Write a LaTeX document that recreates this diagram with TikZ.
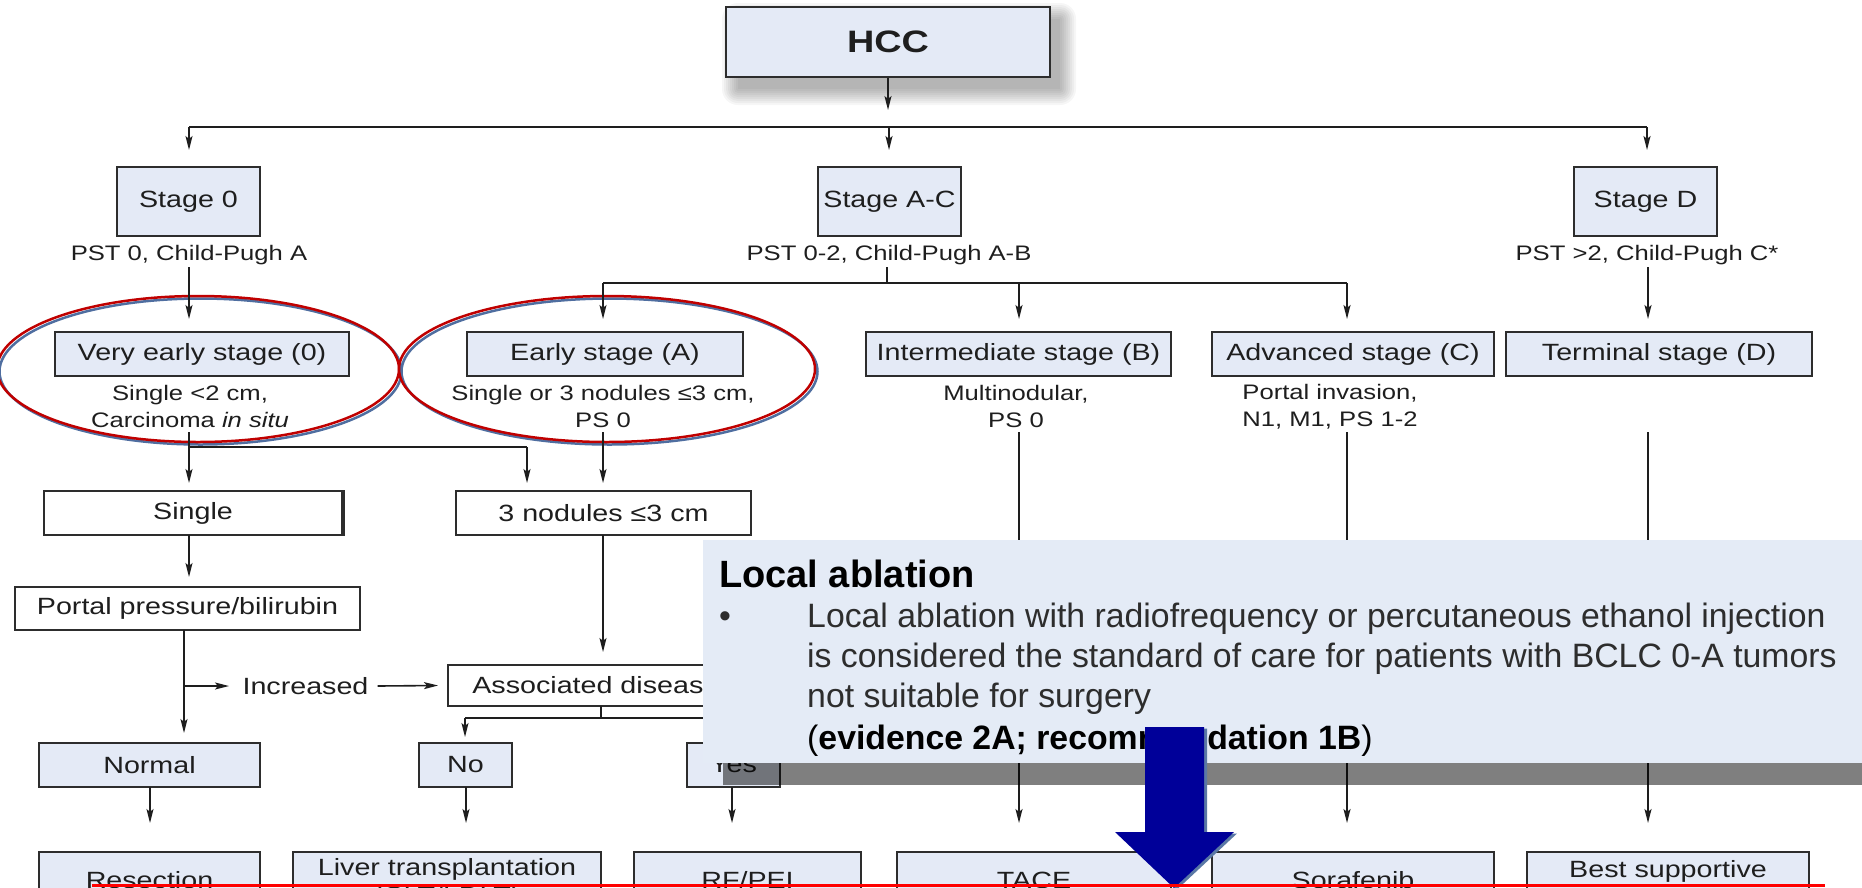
\documentclass[tikz,border=0pt]{standalone}
\usepackage{fontspec}
\usetikzlibrary{arrows.meta,calc}
\newfontfamily\chartfont[FakeStretch=1.22]{Liberation Sans}
\newfontfamily\ovfont{Liberation Sans}
\newcommand\labf{\chartfont\fontsize{23.5}{28}\selectfont}
\newcommand\subf{\chartfont\fontsize{21}{27}\selectfont}
\newcommand\hccf{\chartfont\bfseries\fontsize{31}{36}\selectfont}
\newcommand\ovf{\ovfont\fontsize{33.8}{41}\selectfont}
\newcommand\ovtf{\ovfont\bfseries\fontsize{38}{41}\selectfont}
\definecolor{boxfill}{RGB}{228,234,246}
\definecolor{ovfill}{RGB}{228,235,246}
\definecolor{lc}{RGB}{30,30,30}
\definecolor{bc}{RGB}{45,45,45}
\definecolor{ovtext}{RGB}{45,45,45}
\definecolor{ellred}{RGB}{192,0,0}
\definecolor{ellsh}{RGB}{79,110,160}
\definecolor{navy}{RGB}{0,0,153}
\definecolor{navysh}{RGB}{90,120,165}
\begin{document}
\begin{tikzpicture}[x=1pt,y=-1pt,
  ln/.style={draw=lc,line width=1.6pt},
  arr/.style={ln,-{Stealth[length=14pt,width=7pt,inset=3pt]}},
  bx/.style={draw=bc,line width=2pt,fill=boxfill,inner sep=0pt,font=\labf,align=center,text=lc},
  wbx/.style={bx,fill=white},
  trbx/.style={bx,minimum height=62pt,text height=36pt,text depth=26pt},
  sublab/.style={inner sep=0pt,font=\subf,align=center,text=lc},
  ovline/.style={anchor=base west,inner sep=0pt,font=\ovf,text=ovtext},
]
\path[use as bounding box] (0,0) rectangle (1862,887);
\begin{scope}
\clip (0,0) rectangle (1862,887);
\fill[white] (0,0) rectangle (1862,887);

% ---------- HCC with soft shadow
\foreach \e in {0,2,...,16} {
  \fill[black,opacity=0.035,rounded corners=\e pt] ({738-\e},{19-\e}) rectangle ({1060+\e},{89+\e});
}
\node[bx,minimum width=324pt,minimum height=70pt,font=\hccf] (hcc) at (888,42) {HCC};
\coordinate (hccT) at (888,110);
\draw[arr] (hcc.south) -- (hccT);

% ---------- stages
\node[bx,minimum width=143pt,minimum height=69pt] (s0) at (188.5,201.5) {Stage 0};
\node[bx,minimum width=143pt,minimum height=69pt] (sac) at (889.5,201.5) {Stage A-C};
\node[bx,minimum width=143pt,minimum height=69pt] (sd) at (1645.5,201.5) {Stage D};

\coordinate (b0) at (189,127);
\coordinate (bac) at (889,127);
\coordinate (bd) at (1647,127);
\draw[ln] (b0) -- (bd);
\draw[arr] (b0) -- (b0 |- 0,150);
\draw[arr] (bac) -- (bac |- 0,150);
\draw[arr] (bd) -- (bd |- 0,150);

\node[sublab] (p0) at (189,255) {PST 0, Child-Pugh A};
\node[sublab] (pac) at (889,255) {PST 0-2, Child-Pugh A-B};
\node[sublab] (pd) at (1647,255) {PST >2, Child-Pugh C*};

% ---------- ellipses
\draw[ellsh,line width=2.5pt] (200.5,371.5) ellipse [x radius=201pt, y radius=73pt];
\draw[ellred,line width=2.5pt] (198,369) ellipse [x radius=201pt, y radius=73pt];
\draw[ellsh,line width=2.5pt] (609.5,371.5) ellipse [x radius=208pt, y radius=73pt];
\draw[ellred,line width=2.5pt] (607,369) ellipse [x radius=208pt, y radius=73pt];

% ---------- stage detail row
\node[bx,minimum width=294pt,minimum height=44pt] (ve) at (202,354) {Very early stage (0)};
\node[bx,minimum width=276pt,minimum height=44pt] (ea) at (605,354) {Early stage (A)};
\node[bx,minimum width=305pt,minimum height=44pt] (im) at (1018.5,354) {Intermediate stage (B)};
\node[bx,minimum width=282pt,minimum height=44pt] (ad) at (1353,354) {Advanced stage (C)};
\node[bx,minimum width=306pt,minimum height=44pt] (te) at (1659,354) {Terminal stage (D)};

\draw[arr] (189,267) -- (189,319);
\coordinate (jac) at (887,283);
\draw[ln] (887,267) -- (jac);
\draw[ln] (603,283) -- (1347,283);
\draw[arr] (603,283) -- (603,319);
\draw[arr] (1019,283) -- (1019,319);
\draw[arr] (1347,283) -- (1347,319);
\draw[arr] (1648,267) -- (1648,319);

\node[sublab] (vel) at (190,406.5) {Single <2 cm,\\Carcinoma \textit{in situ}};
\node[sublab] (eal) at (603,406.5) {Single or 3 nodules ≤3 cm,\\PS 0};
\node[sublab] (iml) at (1016,406.5) {Multinodular,\\PS 0};
\node[sublab,align=left] (adl) at (1330,406.5) {Portal invasion,\\N1, M1, PS 1-2};

% ---------- lower flow
\node[wbx,minimum width=298pt,minimum height=44pt] (sg) at (193,513) {Single};
\draw[bc,line width=3.5pt] (sg.north east) -- (sg.south east);
\node[wbx,minimum width=295pt,minimum height=44pt] (n3) at (603.5,513) {3 nodules ≤3 cm};

\draw[arr] (189,432) -- (189,483);
\draw[ln] (189,447) -- (527,447);
\draw[arr] (527,447) -- (527,483);
\draw[arr] (603,432) -- (603,483);
\draw[arr] (1019,432) -- (1019,823);
\draw[arr] (1347,432) -- (1347,823);
\draw[arr] (1648,432) -- (1648,823);

\node[wbx,minimum width=345pt,minimum height=43pt] (pp) at (187.5,608.5) {Portal pressure/bilirubin};
\node[wbx,minimum width=310pt,minimum height=41pt] (adz) at (603,685.5) {Associated diseases};

\draw[arr] (189,535) -- (189,577);
\draw[arr] (603,535) -- (603,652);
\draw[arr] (184,630) -- (184,733);
\draw[arr] (184,686) -- (229,686);
\node[inner sep=0pt,font=\labf,text=lc] (inc) at (305.5,686) {Increased};
\draw[arr] ([xshift=9pt]inc.east) -- ([xshift=-9pt]adz.west);

\draw[ln] (601,706) -- (601,718);
\draw[ln] (465,718) -- (733,718);
\draw[arr] (465,718) -- (465,737);
\draw[arr] (733,718) -- (733,737);

\node[bx,minimum width=221pt,minimum height=44pt] (nm) at (149.5,765) {Normal};
\node[bx,minimum width=93pt,minimum height=44pt] (no) at (465.5,765) {No};
\node[bx,minimum width=93pt,minimum height=44pt] (yes) at (733.5,765) {Yes};

\draw[arr] (150,787) -- (150,823);
\draw[arr] (466,787) -- (466,823);
\draw[arr] (732,787) -- (732,823);

% ---------- treatments
\node[trbx,minimum width=221pt] (res) at (149.5,883) {Resection};
\node[bx,minimum width=308pt,minimum height=62pt] (lt) at (447,883) {Liver transplantation\\(CLT/LDLT)};
\node[trbx,minimum width=227pt] (rf) at (747.5,883) {RF/PEI};
\node[trbx,minimum width=274pt] (tace) at (1034,883) {TACE};
\node[trbx,minimum width=282pt] (sor) at (1353,883) {Sorafenib};
\node[bx,minimum width=282pt,minimum height=62pt] (bsc) at (1668,883) {Best supportive\\care};

% ---------- overlay call-out
\fill[black,opacity=0.5] (723,560) rectangle (1880,785);
\fill[ovfill] (703,540) rectangle (1880,763);
\node[anchor=base west,inner sep=0pt,font=\ovtf,text=black] (ovt) at (719,587) {Local ablation};
\node[ovline] (ovb) at (719,627) {•};
\node[ovline] (ov1) at (807,627) {Local ablation with radiofrequency or percutaneous ethanol injection};
\node[ovline] (ov2) at (807,667) {is considered the standard of care for patients with BCLC 0-A tumors};
\node[ovline] (ov3) at (807,707) {not suitable for surgery};
\node[ovline,text=black] (ov4) at (807,749) {(\textbf{evidence 2A; recommendation 1B})};

% ---------- blue arrow
\fill[navysh,shift={(3,1.5)}] (1145,727) -- (1204,727) -- (1204,832) -- (1234,832) -- (1174,888) -- (1115,832) -- (1145,832) -- cycle;
\fill[navy] (1145,727) -- (1204,727) -- (1204,832) -- (1234,832) -- (1174,888) -- (1115,832) -- (1145,832) -- cycle;

% ---------- red line
\draw[red,line width=3pt] (92,885.5) -- (1825,885.5);
\end{scope}
\end{tikzpicture}
\end{document}
